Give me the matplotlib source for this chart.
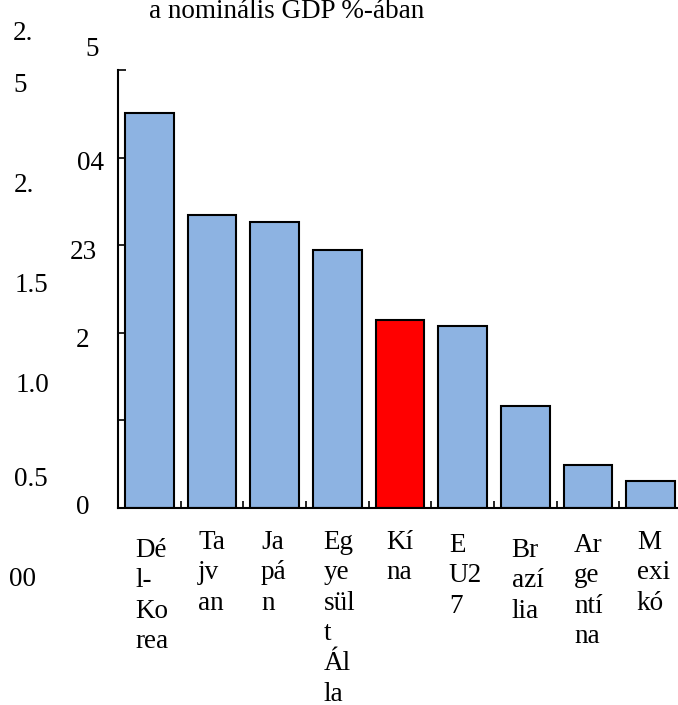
import matplotlib
matplotlib.use("Agg")
import matplotlib.pyplot as plt
from matplotlib.transforms import blended_transform_factory

plt.rcParams['font.family'] = ['Liberation Serif', 'DejaVu Serif']

# Data
categories = ["Dél-Korea", "Tajvan", "Japán", "Egyesült Állam", "Kína", "EU27",
              "Brazília", "Argentína", "Mexikó"]
label_text = ["Dé\nl-\nKo\nrea", "Ta\njv\nan", "Ja\npá\nn", "Eg\nye\nsül\nt\nÁl\nla",
              "Kí\nna", "E\nU2\n7", "Br\nazí\nlia", "Ar\nge\nntí\nna", "M\nexi\nkó"]
values = [2.256, 1.674, 1.631, 1.473, 1.073, 1.039, 0.582, 0.245, 0.154]
highlight = "Kína"
title = "a nominális GDP %-ában"
# stray (garbled) axis labels: text, x px, y px
left_labels = [("2.", 23, 33), ("5", 20, 85), ("2.", 24, 186), ("1.5", 31, 286),
               ("1.0", 32, 386), ("0.5", 31, 480), ("00", 22, 580)]
right_labels = [("5", 92, 50), ("04", 90, 164), ("23", 83, 252), ("2", 83, 341),
                ("0", 83, 508)]

W, H = 678, 705
fig = plt.figure(figsize=(W / 100, H / 100), dpi=100)
ax = fig.add_axes([118 / W, (H - 508) / H, 564 / W, 438 / H])

colors = ["#FF0000" if c == highlight else "#8DB3E2" for c in categories]
x = list(range(len(categories)))
ax.bar(x, values, width=0.78, color=colors, edgecolor="black", linewidth=1.5)

ax.set_xlim(-0.5, len(categories) - 0.5)
ax.set_ylim(0, 2.5)
for s in ["top", "right"]:
    ax.spines[s].set_visible(False)
for s in ["left", "bottom"]:
    ax.spines[s].set_linewidth(1.5)

ax.set_yticks([0, 0.5, 1.0, 1.5, 2.0, 2.5])
ax.set_yticklabels([])
ax.tick_params(axis="y", direction="in", length=6, width=1.2)
ax.set_xticks([i + 0.5 for i in x[:-1]])
ax.set_xticklabels([])
ax.tick_params(axis="x", direction="in", length=5, width=1.2)

fs = 19.5
trans = blended_transform_factory(ax.transData, fig.transFigure)
first_y = [548, 540, 540, 540, 540, 543, 548, 543, 540]
for i, (lbl, yy) in enumerate(zip(label_text, first_y)):
    ax.text(i - 0.22, 1 - (yy - 10) / H, lbl, transform=trans, ha="left", va="top",
            fontsize=fs, linespacing=1.28, multialignment="left")

for t, px, py in left_labels + right_labels:
    fig.text(px / W, 1 - py / H, t, ha="center", va="center", fontsize=fs)

fig.text(287 / W, 1 - 11 / H, title, ha="center", va="center", fontsize=fs)

fig.savefig("out.png", dpi=100)
